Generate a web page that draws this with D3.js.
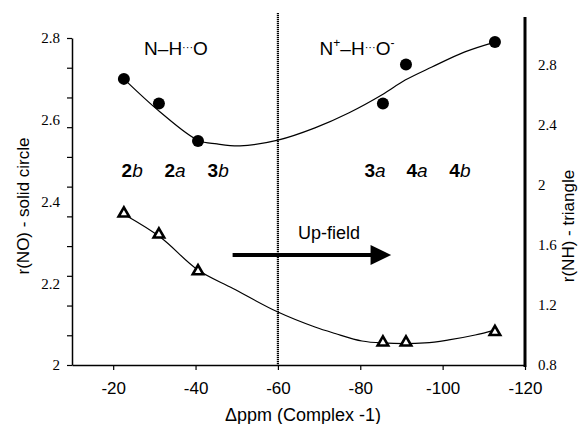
<!DOCTYPE html>
<html><head><meta charset="utf-8">
<script src="https://cdn.jsdelivr.net/npm/d3@7"></script>
<style>
body{margin:0;background:#fff;}
svg{display:block;}
</style></head>
<body>
<svg id="c" width="582" height="424"></svg>
<script>
// ---- data ----
const xTicks = [-20, -40, -60, -80, -100, -120];
const leftTickLabels = [2.0, 2.2, 2.4, 2.6, 2.8];
const rightTickLabels = [0.8, 1.2, 1.6, 2.0, 2.4, 2.8];
const compounds = ["2b", "2a", "3b", "3a", "4a", "4b"];
const labelPos = [-24.6, -35, -45.5, -83.6, -93.8, -104.2];
const dppm = [-22.6, -31.1, -40.6, -85.5, -91.1, -112.7];
const rNO = [2.70, 2.64, 2.548, 2.64, 2.735, 2.79];
const rNH = [1.81, 1.67, 1.425, 0.95, 0.95, 1.02];
const fitNOx = [-22.9, -31.4, -40.6, -45.2, -50.8, -60, -69, -77.3, -85.3, -90.9, -97.4, -105.4, -112.7];
const fitNO = [2.697, 2.619, 2.550, 2.541, 2.536, 2.550, 2.580, 2.617, 2.661, 2.697, 2.729, 2.766, 2.790];
const fitNHx = [-22.9, -31.4, -40.6, -49.1, -60, -69, -73.9, -80.4, -85.3, -95.7, -101.5, -107.9, -112.7];
const fitNH = [1.80, 1.653, 1.433, 1.31, 1.153, 1.053, 1.01, 0.96, 0.947, 0.947, 0.967, 1.0, 1.033];
const divider = -60;

// ---- scales ----
const svg = d3.select("#c");
const x = d3.scaleLinear().domain([-10, -120]).range([72, 525]);
const yL = d3.scaleLinear().domain([2.0, 2.8]).range([365, 38]);
const yR = d3.scaleLinear().domain([0.8, 2.8]).range([365, 65]);
const sans = "'Liberation Sans', Arial, sans-serif";
const serif = "'Liberation Serif', 'Times New Roman', serif";

// x axis
const gx = svg.append("g").attr("transform", "translate(0,365)")
  .call(d3.axisBottom(x).tickValues(xTicks).tickSize(5).tickSizeOuter(0).tickPadding(12)
    .tickFormat(d => d));
gx.select(".domain").attr("stroke", "#000").attr("stroke-width", 1.5);
gx.selectAll(".tick line").attr("stroke", "#000").attr("stroke-width", 1.2);
gx.selectAll("text").attr("font-family", sans).attr("font-size", 17).attr("fill", "#000");

// left axis: tick marks
const tickMarks = d3.range(12).map(i => 2.0 + i * 0.8 / 11);
const gl = svg.append("g").attr("transform", "translate(72,0)")
  .call(d3.axisLeft(yL).tickValues(tickMarks).tickSize(5).tickSizeOuter(0).tickFormat(""));
gl.select(".domain").attr("stroke", "#000").attr("stroke-width", 1.5);
gl.selectAll(".tick line").attr("stroke", "#000").attr("stroke-width", 1.2);
// left labels
const gll = svg.append("g").attr("transform", "translate(72,0)")
  .call(d3.axisLeft(yL).tickValues(leftTickLabels).tickSize(0).tickPadding(12)
    .tickFormat(d => d === 2 ? "2" : d3.format(".1f")(d)));
gll.select(".domain").remove();
gll.selectAll("text").attr("font-family", serif).attr("font-size", 15).attr("fill", "#000");

// right axis
const gr = svg.append("g").attr("transform", "translate(525,0)")
  .call(d3.axisRight(yR).tickValues(rightTickLabels).tickSize(0).tickPadding(13)
    .tickFormat(d => d === 2 ? "2" : d3.format(".1f")(d)));
gr.select(".domain").remove();
gr.selectAll("text").attr("font-family", serif).attr("font-size", 15).attr("fill", "#000");
svg.append("line").attr("x1", 525).attr("x2", 525).attr("y1", yR(3.12)).attr("y2", 367)
  .attr("stroke", "#000").attr("stroke-width", 3);

// divider dotted line
svg.append("line").attr("x1", x(divider)).attr("x2", x(divider)).attr("y1", 13).attr("y2", 365)
  .attr("stroke", "#000").attr("stroke-width", 2.2).attr("stroke-dasharray", "1.2,0.8");

// axis titles
svg.append("text").attr("x", 303).attr("y", 421).attr("text-anchor", "middle")
  .attr("font-family", sans).attr("font-size", 18)
  .text("\u0394ppm (Complex -1)");
svg.append("text").attr("transform", "translate(29,206) rotate(-90)").attr("text-anchor", "middle")
  .attr("font-family", sans).attr("font-size", 17).text("r(NO) - solid circle");
svg.append("text").attr("transform", "translate(574,226) rotate(-90)").attr("text-anchor", "middle")
  .attr("font-family", sans).attr("font-size", 17).text("r(NH) - triangle");

// fit curves
const lineNO = d3.line().x((d, i) => x(fitNOx[i])).y(d => yL(d)).curve(d3.curveCatmullRom.alpha(0.5));
svg.append("path").attr("d", lineNO(fitNO)).attr("fill", "none").attr("stroke", "#000").attr("stroke-width", 1.2);
const lineNH = d3.line().x((d, i) => x(fitNHx[i])).y(d => yR(d)).curve(d3.curveCatmullRom.alpha(0.5));
svg.append("path").attr("d", lineNH(fitNH)).attr("fill", "none").attr("stroke", "#000").attr("stroke-width", 1.2);

// markers
svg.append("g").selectAll("circle").data(rNO).join("circle")
  .attr("cx", (d, i) => x(dppm[i])).attr("cy", d => yL(d)).attr("r", 6).attr("fill", "#000");
const tri = d3.symbol().type(d3.symbolTriangle).size(48);
svg.append("g").selectAll("path").data(rNH).join("path")
  .attr("transform", (d, i) => `translate(${x(dppm[i])},${yR(d)})`)
  .attr("d", tri).attr("fill", "#fff").attr("stroke", "#000").attr("stroke-width", 2.6)
  .attr("stroke-linejoin", "miter");

// compound labels
const lab = svg.append("g").attr("font-family", sans).attr("font-size", 19);
compounds.forEach((c, i) => {
  const t = lab.append("text").attr("x", x(labelPos[i])).attr("y", 177).attr("text-anchor", "middle");
  t.append("tspan").attr("font-weight", "bold").text(c[0]);
  t.append("tspan").attr("font-style", "italic").text(c[1]);
});

// region labels
const t1 = svg.append("text").attr("x", 176).attr("y", 55).attr("text-anchor", "middle")
  .attr("font-family", sans).attr("font-size", 19);
t1.append("tspan").text("N\u2013H");
t1.append("tspan").attr("font-size", 11).attr("dy", -4).text("\u00B7\u00B7\u00B7");
t1.append("tspan").attr("dy", 4).text("O");

const t2 = svg.append("text").attr("x", 357).attr("y", 55).attr("text-anchor", "middle")
  .attr("font-family", sans).attr("font-size", 19);
t2.append("tspan").text("N");
t2.append("tspan").attr("font-size", 12).attr("dy", -8).text("+");
t2.append("tspan").attr("dy", 8).text("\u2013H");
t2.append("tspan").attr("font-size", 11).attr("dy", -4).text("\u00B7\u00B7\u00B7");
t2.append("tspan").attr("dy", 4).text("O");
t2.append("tspan").attr("font-size", 12).attr("dy", -8).text("-");

// up-field arrow
svg.append("line").attr("x1", x(-49)).attr("x2", x(-83)).attr("y1", 255).attr("y2", 255)
  .attr("stroke", "#000").attr("stroke-width", 4);
svg.append("path")
  .attr("d", d3.line()([[x(-82.5), 245], [x(-87.5), 255], [x(-82.5), 265]]) + "Z")
  .attr("fill", "#000");
svg.append("text").attr("x", 329).attr("y", 239).attr("text-anchor", "middle")
  .attr("font-family", sans).attr("font-size", 18).text("Up-field");
</script>
</body></html>
